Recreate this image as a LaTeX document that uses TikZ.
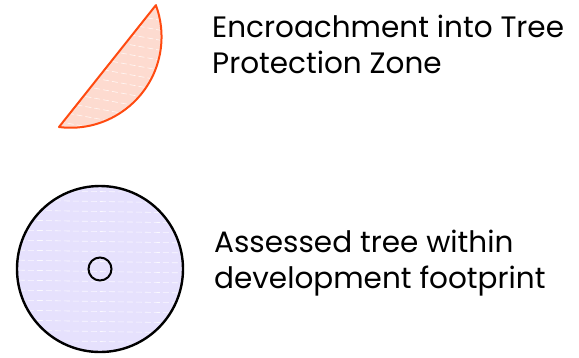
\documentclass[tikz,border=0pt]{standalone}
\usepackage{fontspec}
\setmainfont{Poppins}
\definecolor{zoneline}{HTML}{FF4A10}
\definecolor{zonefill}{HTML}{FDDBD0}
\definecolor{treefill}{HTML}{E6E1FD}
\begin{document}
\begin{tikzpicture}[x=1pt,y=-1pt]
        \tikzset{legendtext/.style = {anchor=base west,align=left,inner sep=0pt,
          font=\fontsize{29.5}{36}\selectfont}};
        \tikzset{hatch/.style = {white,line width=0.6pt,dash pattern=on 6pt off 3pt,opacity=0.8}};
        \useasboundingbox (0,0) rectangle (579,357);
        % encroachment segment
        \fill[zonefill] (156,5) -- (59,127) arc[start angle=97.3, end angle=-20.3, radius=91] -- cycle;
        \begin{scope}
          \clip (156,5) -- (59,127) arc[start angle=97.3, end angle=-20.3, radius=91] -- cycle;
          \foreach \y in {0,10,...,140} \draw[hatch] (50,\y) -- (170,\y+22);
        \end{scope}
        \draw[zoneline, line width=2pt, line join=round] (156,5) -- (59,127)
          arc[start angle=97.3, end angle=-20.3, radius=91] -- cycle;
        \node[legendtext] (zonetext) at (212,73) {Encroachment into Tree\\Protection Zone};
        % assessed tree
        \node[circle, fill=treefill, minimum size=166pt, inner sep=0pt] (tpz) at (100,269) {};
        \begin{scope}
          \clip (100,269) circle[radius=83];
          \foreach \y in {180,190,...,360} \draw[hatch] (10,\y) -- (190,\y+3);
        \end{scope}
        \draw[line width=2.4pt] (tpz.center) circle[radius=83];
        \node[circle, draw, line width=2pt, minimum size=23pt, inner sep=0pt] (trunk) at (tpz.center) {};
        \node[legendtext] (treetext) at (214,288) {Assessed tree within\\development footprint};
    \end{tikzpicture}
\end{document}
